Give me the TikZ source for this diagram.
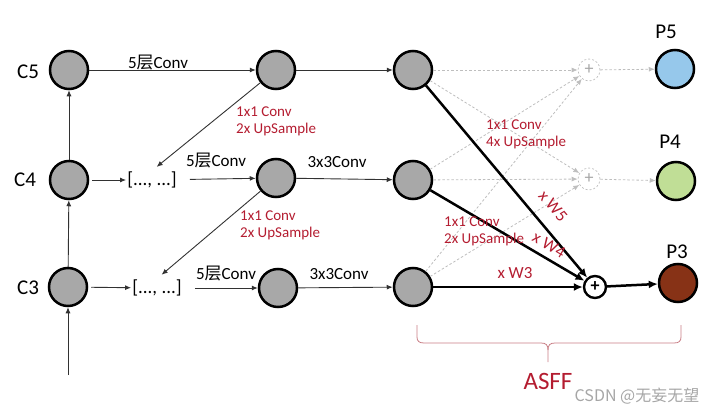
\documentclass[tikz,border=0pt]{standalone}
\usepackage{fontspec}
\setmainfont{Carlito}
\newfontfamily\cjk{Noto Sans CJK SC}
\usetikzlibrary{arrows.meta}
\definecolor{fmgray}{RGB}{168,168,168}
\definecolor{pblue}{RGB}{150,200,235}
\definecolor{pgreen}{RGB}{192,222,150}
\definecolor{pbrown}{RGB}{135,50,22}
\definecolor{lblred}{RGB}{180,28,48}
\definecolor{thinc}{RGB}{50,50,50}
\definecolor{dashc}{RGB}{190,190,190}
\definecolor{bracec}{RGB}{200,125,132}
\newcommand{\fs}[1]{\fontsize{#1}{#1}\selectfont}
\begin{document}
\begin{tikzpicture}[x=1pt,y=-1pt,
  fmap/.style={circle, draw=black, line width=2.5pt, fill=fmgray, minimum size=38pt, inner sep=0pt},
  clabel/.style={font=\fs{21}, inner sep=0pt},
  oplbl/.style={font=\fs{17}, inner sep=0pt},
  redlbl/.style={font=\fontsize{15}{17}\selectfont, text=lblred, align=left, anchor=west, inner sep=0pt},
  wlbl/.style={font=\fs{17}, text=lblred, inner sep=0pt},
  brk/.style={font=\fs{19}, inner sep=1pt},
  plusd/.style={circle, draw=dashc, dashed, dash pattern=on 2pt off 2pt, line width=0.7pt, minimum size=22pt, inner sep=0pt, text=gray!70, font=\fs{18}},
  pluss/.style={circle, draw=black, line width=2.4pt, fill=white, minimum size=22pt, inner sep=0pt, font=\bfseries\fs{18}},
  thin/.style={draw=thinc, line width=0.9pt, -{Latex[length=6pt,width=5pt]}},
  bold/.style={draw=black, line width=2.5pt, -{Latex[length=9pt,width=8pt]}},
  dsh/.style={draw=dashc, line width=0.8pt, dash pattern=on 2.5pt off 2pt, -{Latex[length=6pt,width=5pt,fill=dashc]}},
  brace/.style={draw=bracec, line width=0.8pt}
]
\useasboundingbox (0,0) rectangle (720,415);

% backbone
\node[fmap] (c5) at (69,70) {};
\node[fmap] (c4) at (69,180) {};
\node[fmap] (c3) at (68,287) {};
\node[clabel] (lc5) at (28,72) {C5};
\node[clabel] (lc4) at (25,180) {C4};
\node[clabel] (lc3) at (28,288) {C3};
\coordinate (inp) at (68,375);

% brackets
\node[brk] (b4) at (152,180) {[..., ...]};
\node[brk] (b3) at (157,288) {[..., ...]};

% middle column
\node[fmap] (m5) at (276,70) {};
\node[fmap] (m4) at (276,178) {};
\node[fmap] (m3) at (278,288) {};

% third column
\node[fmap] (t5) at (413,70) {};
\node[fmap] (t4) at (413,180) {};
\node[fmap] (t3) at (413,287) {};

% plus nodes
\node[plusd] (q5) at (589,70) {+};
\node[plusd] (q4) at (589,179) {+};
\node[pluss] (q3) at (595,287) {+};

% outputs
\node[fmap, fill=pblue] (p5) at (675,69) {};
\node[fmap, fill=pgreen] (p4) at (676,181) {};
\node[fmap, fill=pbrown] (p3) at (678,283) {};
\node[clabel] (lp5) at (666,32) {P5};
\node[clabel] (lp4) at (670,142) {P4};
\node[clabel] (lp3) at (677,252) {P3};

% thin connectors
\draw[thin] (inp) -- (c3);
\draw[thin] (c3) -- (c4);
\draw[thin] (c4) -- (c5);
\draw[thin] (c5) -- (m5);
\draw[thin, shorten <=3pt] (c4) -- (b4);
\draw[thin, shorten <=3pt] (c3) -- (b3);
\draw[thin, shorten <=12pt] (b4) -- (m4);
\draw[thin, shorten <=12pt] (b3) -- (m3);
\draw[thin, shorten >=6pt] (m5) -- (b4.north);
\draw[thin, shorten >=6pt] (m4) -- (b3.north);
\draw[thin] (m5) -- (t5);
\draw[thin] (m4) -- (t4);
\draw[thin] (m3) -- (t3);

% dashed connectors
\draw[dsh] (t5) -- (q5);
\draw[dsh] (t5) -- (q4);
\draw[dsh] (t4) -- (q5);
\draw[dsh] (t4) -- (q4);
\draw[dsh] (t3) -- (q5);
\draw[dsh] (t3) -- (q4);
\draw[dsh] (q5) -- (p5);
\draw[dsh] (q4) -- (p4);

% bold connectors
\draw[bold] (t5) -- (q3);
\draw[bold] (t4) -- (q3);
\draw[bold] (t3) -- (q3);
\draw[bold] (q3) -- (p3);

% operation labels
\node[oplbl] (o1) at (158,63) {5{\cjk 层}Conv};
\node[oplbl] (o2) at (216,161) {5{\cjk 层}Conv};
\node[oplbl] (o3) at (226,274) {5{\cjk 层}Conv};
\node[oplbl] (o4) at (337,162) {3x3Conv};
\node[oplbl] (o5) at (339,274) {3x3Conv};

\node[redlbl] (r1) at (236,121.5) {1x1 Conv\\2x UpSample};
\node[redlbl] (r2) at (240,225.5) {1x1 Conv\\2x UpSample};
\node[redlbl] (r3) at (486,134.5) {1x1 Conv\\4x UpSample};
\node[redlbl] (r4) at (444,231) {1x1 Conv\\2x UpSample};

\node[wlbl, rotate=-50] (w5) at (553,206) {x W5};
\node[wlbl, rotate=-30] (w4) at (549,245) {x W4};
\node[wlbl] (w3) at (515,273) {x W3};

% brace
\draw[brace] (417,325) -- (417,337) .. controls (417,341) and (419,343) .. (424,343) -- (541,343) .. controls (546,343) and (548,345) .. (548,350) -- (548,362);
\draw[brace] (681,325) -- (681,337) .. controls (681,341) and (679,343) .. (674,343) -- (555,343) .. controls (550,343) and (548,345) .. (548,350);
\node[font=\fs{25}, text=lblred, inner sep=0pt] (asff) at (548,381) {ASFF};

% watermark
\node[font=\cjk\fs{16}, text=black!35, inner sep=0pt] (wm) at (637,396) {CSDN @无妄无望};
\end{tikzpicture}
\end{document}
